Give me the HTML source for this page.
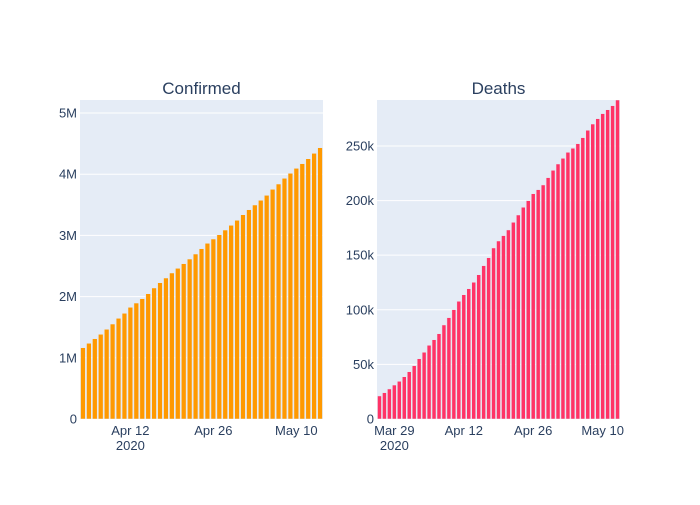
<!DOCTYPE html>
<html><head><meta charset="utf-8"><style>
body{margin:0;background:#fff}
svg text{font-family:"Liberation Sans","DejaVu Sans",sans-serif;fill:#2a3f5f}
</style></head><body>
<svg id="chart" width="700" height="500" xmlns="http://www.w3.org/2000/svg"></svg>
<script>
const confirmedValues=[1.165,1.237,1.312,1.384,1.466,1.552,1.645,1.727,1.825,1.895,1.966,2.047,2.141,2.227,2.304,2.386,2.462,2.538,2.614,2.696,2.783,2.871,2.941,3.011,3.088,3.165,3.247,3.338,3.420,3.497,3.574,3.655,3.753,3.840,3.933,4.015,4.096,4.172,4.253,4.341,4.433];
const confirmedStart=[2020,3,4];
const deathValues=[21.1,24.1,27.5,31.1,34.5,38.7,43.3,48.8,55.2,61.1,67.5,72.6,78.1,86.1,92.8,100.1,107.8,113.8,119.3,125.2,132.1,140.4,147.7,156.6,163.0,167.9,173.1,180.1,186.8,193.9,199.9,206.3,210.0,214.3,221.0,227.7,233.5,238.7,244.2,247.9,252.1,257.6,264.4,270.1,275.0,279.6,283.2,286.9,292.1];
const deathStart=[2020,2,26];
const confirmedYTicks=[0,1,2,3,4,5];
const confirmedYLabels=["0","1M","2M","3M","4M","5M"];
const deathYTicks=[0,50,100,150,200,250];
const deathYLabels=["0","50k","100k","150k","200k","250k"];
const confirmedXTicks=[[2020,3,12],[2020,3,26],[2020,4,10]];
const confirmedXLabels=["Apr 12","Apr 26","May 10"];
const deathXTicks=[[2020,2,29],[2020,3,12],[2020,3,26],[2020,4,10]];
const deathXLabels=["Mar 29","Apr 12","Apr 26","May 10"];

const svg=document.getElementById('chart');
const NS='http://www.w3.org/2000/svg';
function mk(tag,attrs,parent){const e=document.createElementNS(NS,tag);for(const k in attrs)e.setAttribute(k,attrs[k]);(parent||svg).appendChild(e);return e;}
const DAY=86400000;
function dnum(a){return Date.UTC(a[0],a[1],a[2])/DAY;}

function panel(opt){
  const g=mk('g',{});
  
  
  const bg=mk('rect',{x:opt.x0,y:opt.y0,width:opt.x1-opt.x0,height:opt.y1-opt.y0,fill:'#e5ecf6'},g);
  
  
  const start=dnum(opt.start);
  const xmin=start-0.5, xmax=start+opt.values.length-0.5;
  const ymax=opt.ymax;
  const X=d=>opt.x0+(d-xmin)/(xmax-xmin)*(opt.x1-opt.x0);
  const Y=v=>opt.y1-v/ymax*(opt.y1-opt.y0);
  opt.yticks.forEach((t,i)=>{
    if(i>0){const l=mk('line',{x1:opt.x0,x2:opt.x1,y1:Y(t),y2:Y(t),stroke:'#fff','stroke-width':1},g);
      
      }
    const tx=mk('text',{x:opt.x0-3,y:Y(t)+4.5,'text-anchor':'end','font-size':'13'},g);
    tx.textContent=opt.ylabels[i];
    
    
  });
  const clipId='clip-'+opt.name;
  const cp=mk('clipPath',{id:clipId},g);
  mk('rect',{x:opt.x0,y:opt.y0,width:opt.x1-opt.x0,height:opt.y1-opt.y0},cp);
  const bars=mk('g',{'clip-path':'url(#'+clipId+')'},g);
  const step=(opt.x1-opt.x0)/(xmax-xmin);
  const bw=step*0.8;
  opt.values.forEach((v,i)=>{
    const cx=X(start+i);
    const r=mk('rect',{x:cx-bw/2,y:Y(v),width:bw,height:Y(0)-Y(v),fill:opt.color,stroke:'#e5ecf6','stroke-width':0.5},bars);
    
    
  });
  opt.xticks.forEach((t,i)=>{
    const x=X(dnum(t));
    const tx=mk('text',{x:x,y:opt.y1+16,'text-anchor':'middle','font-size':'13'},g);
    tx.textContent=opt.xlabels[i];
    
    
    if(i===0){const yr=mk('text',{x:x,y:opt.y1+31,'text-anchor':'middle','font-size':'13'},g);
      yr.textContent='2020';
      
      }
  });
  const ti=mk('text',{x:(opt.x0+opt.x1)/2,y:94,'text-anchor':'middle','font-size':'17'},g);
  ti.textContent=opt.title;
  
  
}
panel({name:'confirmed',title:'Confirmed',x0:80,x1:323,y0:100,y1:419,values:confirmedValues,start:confirmedStart,ymax:5.213,yticks:confirmedYTicks,ylabels:confirmedYLabels,xticks:confirmedXTicks,xlabels:confirmedXLabels,color:'#ff9900'});
panel({name:'deaths',title:'Deaths',x0:377,x1:620,y0:100,y1:419,values:deathValues,start:deathStart,ymax:292.1,yticks:deathYTicks,ylabels:deathYLabels,xticks:deathXTicks,xlabels:deathXLabels,color:'#ff3366'});
</script>
</body></html>
